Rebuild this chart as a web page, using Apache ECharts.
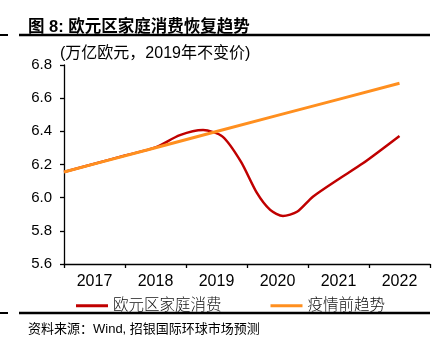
<!DOCTYPE html>
<html>
<head>
<meta charset="utf-8">
<script src="https://cdn.jsdelivr.net/npm/echarts@6/dist/echarts.min.js"></script>
<style>
  html, body { margin: 0; padding: 0; background: #fff; }
  #chart { width: 444px; height: 345px; }
</style>
</head>
<body>
<div id="chart"></div>
<script>
// Year labels shown under the axis
const years = ['2017', '2018', '2019', '2020', '2021', '2022'];

// Euro-area household consumption (trillion EUR, 2019 constant prices), [year, value]
const consumption = [
  [2016.5, 6.155], [2017.0, 6.205], [2017.5, 6.254], [2018.0, 6.303],
  [2018.4, 6.377], [2018.78, 6.408], [2019.1, 6.368], [2019.4, 6.217],
  [2019.66, 6.030], [2019.88, 5.926], [2020.09, 5.889], [2020.32, 5.915],
  [2020.58, 6.006], [2020.98, 6.107], [2021.4, 6.207], [2022.0, 6.372]
];

// Pre-pandemic trend
const trend = [
  [2016.5, 6.155], [2017.0, 6.204], [2018.0, 6.301], [2019.0, 6.399],
  [2020.0, 6.496], [2021.0, 6.593], [2022.0, 6.690]
];

const yTicks = { min: 5.6, max: 6.8, step: 0.2 };

const FONT = "'Liberation Sans', 'Noto Sans CJK SC', sans-serif";
const RED = '#C00000';
const ORANGE = '#FF8F1F';

const chart = echarts.init(document.getElementById('chart'), null, { renderer: 'canvas' });

chart.setOption({
  backgroundColor: '#fff',
  animation: false,
  title: [
    {
      text: '图 8: 欧元区家庭消费恢复趋势',
      left: 23, top: 14,
      textStyle: { fontFamily: FONT, fontSize: 16.5, fontWeight: 'bold', color: '#000' }
    },
    {
      text: '(万亿欧元，2019年不变价)',
      left: 55, top: 41,
      textStyle: { fontFamily: FONT, fontSize: 16, fontWeight: 'normal', color: '#000' }
    },
    {
      text: '资料来源：Wind, 招银国际环球市场预测',
      left: 23, top: 318,
      textStyle: { fontFamily: FONT, fontSize: 13, fontWeight: 'normal', color: '#000' }
    }
  ],
  graphic: [
    { type: 'line', shape: { x1: 19, y1: 35, x2: 430, y2: 35 }, style: { stroke: '#000', lineWidth: 2.5 } },
    { type: 'line', shape: { x1: 0, y1: 35, x2: 8, y2: 35 }, style: { stroke: '#000', lineWidth: 2 } },
    { type: 'line', shape: { x1: 19, y1: 313, x2: 430, y2: 313 }, style: { stroke: '#000', lineWidth: 2.5 } },
    { type: 'line', shape: { x1: 0, y1: 313, x2: 8, y2: 313 }, style: { stroke: '#000', lineWidth: 2 } }
  ],
  legend: {
    left: 71, top: 293,
    itemWidth: 32, itemHeight: 3, itemGap: 49,
    icon: 'rect',
    textStyle: { fontFamily: FONT, fontSize: 15.5, fontWeight: 300, color: '#111' },
    data: ['欧元区家庭消费', '疫情前趋势']
  },
  grid: { left: 64, right: 14, top: 65, bottom: 81, containLabel: false },
  xAxis: [
    {
      type: 'category',
      data: years,
      boundaryGap: true,
      axisLine: { lineStyle: { color: '#000', width: 1.3 } },
      axisTick: { show: true, length: 4, lineStyle: { color: '#000', width: 1.3 } },
      axisLabel: { fontFamily: FONT, fontSize: 16, color: '#000', margin: 10 }
    },
    {
      type: 'value',
      min: 2016.5, max: 2022.5,
      show: false
    }
  ],
  yAxis: {
    type: 'value',
    min: yTicks.min, max: yTicks.max, interval: yTicks.step,
    splitLine: { show: false },
    axisLine: { show: true, lineStyle: { color: '#000', width: 1.3 } },
    axisTick: { show: true, length: 4, lineStyle: { color: '#000', width: 1.3 } },
    axisLabel: {
      fontFamily: FONT, fontSize: 15, color: '#000', margin: 12,
      formatter: v => v.toFixed(1)
    }
  },
  series: [
    {
      name: '欧元区家庭消费',
      type: 'line',
      xAxisIndex: 1,
      data: consumption,
      smooth: 0.25,
      showSymbol: false,
      lineStyle: { color: RED, width: 2.5 },
      itemStyle: { color: RED },
      z: 2
    },
    {
      name: '疫情前趋势',
      type: 'line',
      xAxisIndex: 1,
      data: trend,
      smooth: false,
      showSymbol: false,
      lineStyle: { color: ORANGE, width: 3 },
      itemStyle: { color: ORANGE },
      z: 3
    }
  ]
});
</script>
</body>
</html>
